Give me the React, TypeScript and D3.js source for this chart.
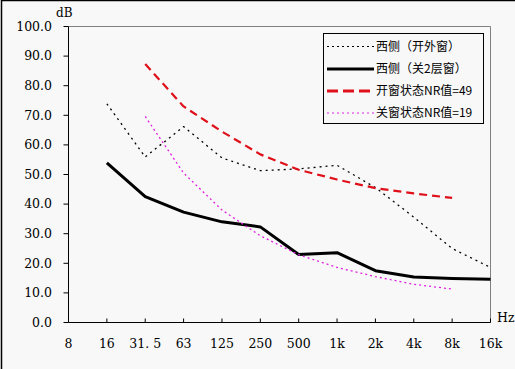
import React from "react";
import * as d3 from "d3";

const categories = ["8", "16", "31.5", "63", "125", "250", "500", "1k", "2k", "4k", "8k", "16k"];
const xLabels = ["8", "16", "31. 5", "63", "125", "250", "500", "1k", "2k", "4k", "8k", "16k"];
const yTicks = [0, 10, 20, 30, 40, 50, 60, 70, 80, 90, 100];

const westOpen: (number | null)[] = [null, 73.9, 55.9, 66.2, 55.6, 51.3, 51.9, 53.1, 45.6, 35.6, 25.0, 18.6];
const westClosed: (number | null)[] = [null, 53.9, 42.5, 37.3, 34.0, 32.3, 23.0, 23.6, 17.5, 15.4, 14.9, 14.6];
const nrOpen: (number | null)[] = [null, null, 87.3, 73.0, 64.5, 56.8, 51.6, 48.3, 45.4, 43.6, 42.1, null];
const nrClosed: (number | null)[] = [null, null, 69.6, 50.5, 38.0, 29.3, 22.9, 18.6, 15.5, 12.9, 11.3, null];

const seriesNames = ["西侧（开外窗）", "西侧（关2层窗）", "开窗状态NR值=49", "关窗状态NR值=19"];

const W = 515;
const H = 369;
const left = 68.5;
const right = 490.5;
const top = 26.5;
const bottom = 322.5;

const numFont = "'DejaVu Serif', 'Liberation Serif', serif";
const cjkFont = "'Noto Sans CJK SC', sans-serif";

export default function App() {
  const x = d3.scalePoint<string>().domain(categories).range([left, right]);
  const y = d3.scaleLinear().domain([0, 100]).range([bottom, top]);

  const line = d3
    .line<number | null>()
    .defined((d) => d !== null)
    .x((_, i) => x(categories[i]) as number)
    .y((d) => y(d as number));

  const styles = [
    { data: westOpen, stroke: "#000", width: 1.3, dash: "2,4" },
    { data: westClosed, stroke: "#000", width: 3, dash: "none" },
    { data: nrOpen, stroke: "#e0101a", width: 2.2, dash: "8,5" },
    { data: nrClosed, stroke: "#e020e0", width: 1.3, dash: "2,3" },
  ];

  const legX = 323.5;
  const legY = 33.5;
  const legW = 160;
  const legH = 90;
  const rowYs = [46.5, 69, 91, 113];
  const legendStyles = [
    { stroke: "#000", width: 1, dash: "2,3" },
    { stroke: "#000", width: 3, dash: "none" },
    { stroke: "#e0101a", width: 3, dash: "11,5" },
    { stroke: "#e020e0", width: 1, dash: "2,3" },
  ];

  return (
    <svg
      width={W}
      height={H}
      style={{ position: "absolute", left: 0, top: 0, display: "block" }}
    >
      <rect x={0} y={0} width={W} height={H} fill="#f8f8f8" />
      <rect x={1.5} y={0.5} width={W + 5} height={H + 5} fill="none" stroke="#000" strokeWidth={1.5} />

      {/* plot frame (top/right gray) */}
      <path
        d={`M${left},${top}H${right}V${bottom}`}
        fill="none"
        stroke="#808080"
        strokeWidth={1}
      />
      {/* axes */}
      <path d={`M${left},${top}V${bottom}H${right}`} fill="none" stroke="#000" strokeWidth={1} />

      {/* y ticks */}
      {yTicks.map((t) => (
        <g key={"y" + t}>
          <line x1={left - 5} x2={left} y1={y(t)} y2={y(t)} stroke="#000" />
          <text
            x={52}
            y={y(t)}
            dy="0.35em"
            textAnchor="end"
            fontFamily={numFont}
            fontSize={12.5}
            fill="#000"
          >
            {t.toFixed(1)}
          </text>
        </g>
      ))}

      {/* x ticks */}
      {categories.map((c, i) => (
        <g key={"x" + c}>
          {i > 0 && (
            <line x1={x(c)} x2={x(c)} y1={bottom - 4} y2={bottom} stroke="#000" />
          )}
          <text
            x={x(c)}
            y={344}
            dy="0.35em"
            textAnchor="middle"
            fontFamily={numFont}
            fontSize={12.5}
            fill="#000"
          >
            {xLabels[i]}
          </text>
        </g>
      ))}

      <text x={497} y={318} dy="0.35em" fontFamily={numFont} fontSize={12.5} fill="#000">
        Hz
      </text>
      <text x={56} y={13} dy="0.35em" fontFamily={numFont} fontSize={12} fill="#000">
        dB
      </text>

      {/* series */}
      {styles.map((s, i) => (
        <path
          key={"s" + i}
          d={line(s.data) || ""}
          fill="none"
          stroke={s.stroke}
          strokeWidth={s.width}
          strokeDasharray={s.dash}
          strokeLinejoin="round"
        />
      ))}

      {/* legend */}
      <rect x={legX} y={legY} width={legW} height={legH} fill="#f8f8f8" stroke="#000" strokeWidth={1} />
      {seriesNames.map((name, i) => (
        <g key={"l" + i}>
          <line
            x1={327}
            x2={374}
            y1={rowYs[i]}
            y2={rowYs[i]}
            stroke={legendStyles[i].stroke}
            strokeWidth={legendStyles[i].width}
            strokeDasharray={legendStyles[i].dash}
          />
          <text
            x={376}
            y={rowYs[i]}
            dy="0.35em"
            fontFamily={cjkFont}
            fontSize={12}
            fill="#000"
          >
            {name}
          </text>
        </g>
      ))}
    </svg>
  );
}
